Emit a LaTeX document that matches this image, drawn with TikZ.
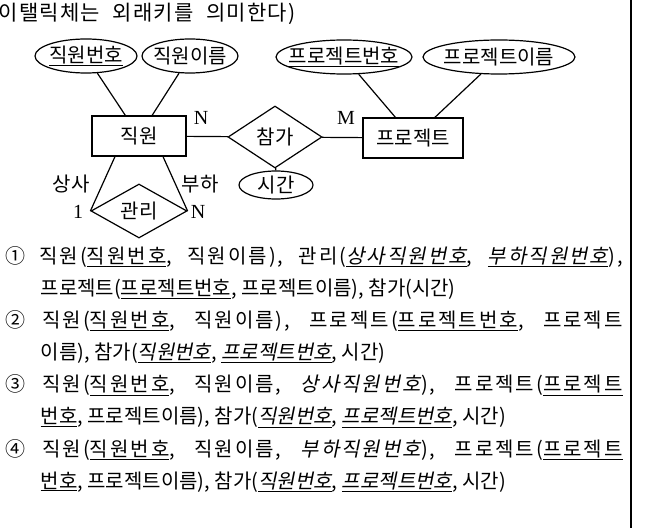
\documentclass[tikz,border=0pt]{standalone}
\usepackage{fontspec}
\setmainfont{Noto Sans CJK KR}
\newfontfamily\romfont{Liberation Serif}
\usetikzlibrary{shapes.geometric}
\newcommand{\kfont}{\fontsize{20bp}{24bp}\selectfont}
\newcommand{\slant}{\addfontfeature{FakeSlant=0.2}}
\newcommand{\track}{\addfontfeature{LetterSpace=10}}
\newcommand{\fkey}[1]{\underline{\slant #1}}

\begin{document}
\begin{tikzpicture}[x=1bp, y=-1bp, line width=1.2bp,
  every node/.style={font=\kfont},
  ent/.style={draw, rectangle, inner sep=0, minimum width=94bp, minimum height=40bp},
  rel/.style={draw, diamond, inner sep=0, aspect=1.5},
  attr/.style={draw, ellipse, inner sep=0, minimum height=34bp},
  card/.style={font=\fontsize{20bp}{24bp}\romfont, inner sep=0},
  row/.style={anchor=west, inner sep=0}]
  \pgfmathsetmacro{\dy}{32.1}
  \useasboundingbox (0,0) rectangle (647,528);

  % header
  \node[row, font=\fontsize{21bp}{25bp}\selectfont] (hd) at (-2,14) {\makebox[297bp][s]{\addfontfeature{LetterSpace=6}이탤릭체는 외래키를 의미한다)}};

  % entities, relations, attributes
  \node[ent] (jw) at (139,136) {직원};
  \node[rel, minimum width=94bp, minimum height=62bp] (cg) at (275,137) {참가};
  \node[ent, minimum width=100bp] (pj) at (413,138) {프로젝트};
  \node[attr, minimum width=102bp] (e1) at (86,56) {\makebox[0pt]{\underline{직원번호}}};
  \node[attr, minimum width=96bp] (e2) at (190,56) {\makebox[0pt]{직원이름}};
  \node[attr, minimum width=136bp] (e3) at (344,57) {\makebox[0pt]{\underline{프로젝트번호}}};
  \node[attr, minimum width=152bp] (e4) at (499,57) {\makebox[0pt]{프로젝트이름}};
  \node[attr, minimum width=74bp, minimum height=28bp] (tm) at (276,185) {\makebox[0pt]{시간}};
  \node[rel, minimum width=96bp, minimum height=54bp] (mg) at (139,211) {관리};

  % roles and cardinalities
  \node[card] (n1) at (201,118) {N};
  \node[card] (m1) at (346,118) {M};
  \node[inner sep=0] (ss) at (71,184) {상사};
  \node[inner sep=0] (bh) at (200,184) {부하};
  \node[card] (one) at (78,212) {1};
  \node[card] (n2) at (198,212) {N};

  \draw (e1) -- (jw);
  \draw (e2) -- (jw);
  \draw (e3) -- (pj);
  \draw (e4) -- (pj);
  \draw (jw) -- (cg);
  \draw (cg) -- (pj);
  \draw (cg) -- (tm);
  \draw ([xshift=-24bp]jw.south) -- (mg.west);
  \draw ([xshift=24bp]jw.south) -- (mg.east);

  % answer choices
  \node[row] (r1) at (5,257) {\makebox[617bp][s]{\track ① 직원(\underline{직원번호}, 직원이름), 관리(\fkey{상사직원번호}, \fkey{부하직원번호}),}};
  \node[row] (r2) at (40,{257+\dy}) {프로젝트(\underline{프로젝트번호}, 프로젝트이름), 참가(시간)};
  \node[row] (r3) at (5,{257+2*\dy}) {\makebox[617bp][s]{\track ② 직원(\underline{직원번호}, 직원이름), 프로젝트(\underline{프로젝트번호}, 프로젝트}};
  \node[row] (r4) at (40,{257+3*\dy}) {이름), 참가(\fkey{직원번호}, \fkey{프로젝트번호}, 시간)};
  \node[row] (r5) at (5,{257+4*\dy}) {\makebox[617bp][s]{\track ③ 직원(\underline{직원번호}, 직원이름, {\slant 상사직원번호}), 프로젝트(\underline{프로젝트}}};
  \node[row] (r7) at (5,{257+6*\dy}) {\makebox[617bp][s]{\track ④ 직원(\underline{직원번호}, 직원이름, {\slant 부하직원번호}), 프로젝트(\underline{프로젝트}}};
  \foreach \k/\n in {5/r6, 7/r8} {%
    \node[row] (\n) at (40,{257+\k*\dy}) {\underline{번호}, 프로젝트이름), 참가(\fkey{직원번호}, \fkey{프로젝트번호}, 시간)};
  }

  % frame
  \draw (631,0) -- (631,528);
\end{tikzpicture}
\end{document}
